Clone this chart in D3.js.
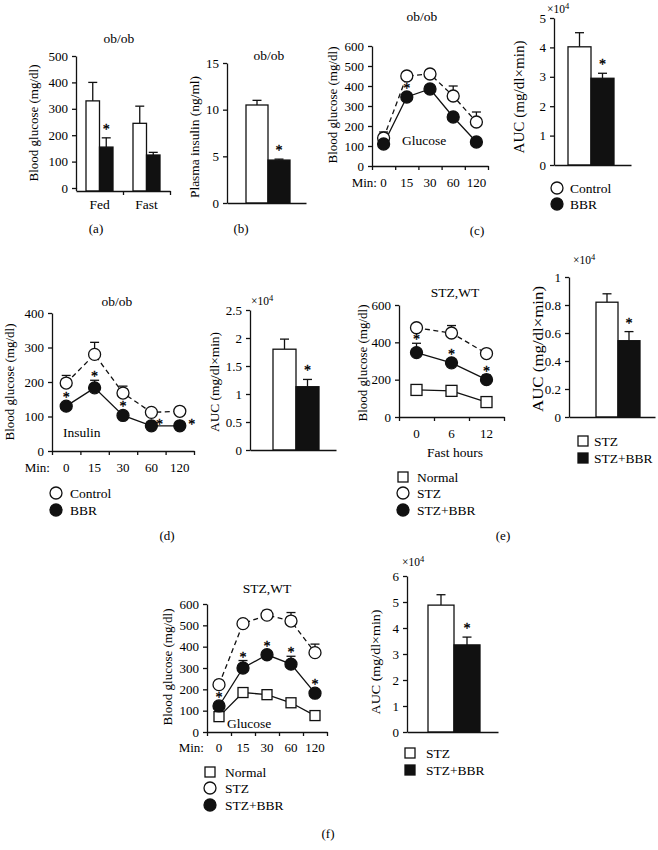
<!DOCTYPE html>
<html><head><meta charset="utf-8">
<script src="https://cdn.jsdelivr.net/npm/d3@7"></script>
<style>body{margin:0;background:#fff}svg{display:block}</style>
</head><body><svg id="c" width="658" height="850"></svg>
<script>
// ---------------- DATA ----------------
const groupLabels = ["Control", "BBR"];
const stzGroups = ["STZ", "STZ+BBR"];

// (a) ob/ob blood glucose
const aCategories = ["Fed", "Fast"];
const aControl = [330, 245];
const aControlErr = [70, 65];
const aBBR = [155, 125];
const aBBRErr = [35, 10];
const aBBRStar = [1, 0];
const aTicks = [0, 100, 200, 300, 400, 500];

// (b) plasma insulin
const bValues = [10.5, 4.6];
const bErr = [0.5, 0.1];
const bStar = [0, 1];
const bTicks = [0, 5, 10, 15];

// (c) glucose tolerance, ob/ob
const minLabels = ["0", "15", "30", "60", "120"];
const cControl = [140, 450, 460, 350, 220];
const cControlErr = [30, 15, 10, 50, 50];
const cBBR = [110, 345, 385, 245, 120];
const cBBRErr = [0, 0, 0, 0, 0];
const cBBRStar = [0, 1, 0, 0, 0];
const glucoseTicks = [0, 100, 200, 300, 400, 500, 600];
const cAUC = [4.02, 2.95];
const cAUCErr = [0.48, 0.17];
const cAUCStar = [0, 1];
const cAUCTicks = [0, 1, 2, 3, 4, 5];

// (d) insulin tolerance, ob/ob
const dControl = [197, 280, 168, 112, 115];
const dControlErr = [22, 35, 20, 0, 0];
const dBBR = [130, 183, 103, 73, 73];
const dBBRErr = [0, 22, 0, 0, 0];
const dBBRStar = [1, 1, 1, 2, 2]; // 1 = above, 2 = right side
const dTicks = [0, 100, 200, 300, 400];
const dAUC = [1.8, 1.13];
const dAUCErr = [0.18, 0.13];
const dAUCStar = [0, 1];
const dAUCTicks = [0, 0.5, 1, 1.5, 2, 2.5];

// (e) fasting, STZ
const fastHours = ["0", "6", "12"];
const eNormal = [145, 140, 80];
const eSTZ = [478, 450, 340];
const eSTZErr = [10, 40, 20];
const eBBR = [345, 290, 200];
const eBBRErr = [50, 0, 25];
const eBBRStar = [1, 1, 1];
const eTicks = [0, 200, 400, 600];
const eAUC = [0.82, 0.545];
const eAUCErr = [0.06, 0.065];
const eAUCStar = [0, 1];
const eAUCTicks = [0, 0.2, 0.4, 0.6, 0.8, 1];

// (f) glucose tolerance, STZ
const fNormal = [72, 185, 175, 137, 77];
const fSTZ = [222, 508, 548, 520, 372];
const fSTZErr = [20, 10, 22, 40, 40];
const fBBR = [122, 300, 362, 318, 182];
const fBBRErr = [10, 35, 10, 37, 12];
const fBBRStar = [1, 1, 1, 1, 1];
const fAUC = [4.88, 3.35];
const fAUCErr = [0.4, 0.3];
const fAUCStar = [0, 1];
const fAUCTicks = [0, 1, 2, 3, 4, 5, 6];

// ---------------- HELPERS ----------------
const FONT = '"Liberation Serif","Times New Roman",Times,serif';
const INK = "#111";
const TXT = "#000";
const SW = 1.3;
const svg = d3.select("#c");

function txt(x, y, s, o = {}) {
  const t = svg.append("text").attr("x", x).attr("y", y)
    .attr("dy", o.dy || "0.35em")
    .attr("font-family", FONT).attr("font-size", o.size || 13.5)
    .attr("fill", TXT).attr("text-anchor", o.anchor || "middle").text(s);
  if (o.rotate) t.attr("transform", `rotate(-90,${x},${y})`);
  if (o.len) t.attr("textLength", o.len).attr("lengthAdjust", "spacingAndGlyphs");
  return t;
}
function mult(x, y) {
  const t = svg.append("text").attr("x", x).attr("y", y).attr("dy", "0.35em")
    .attr("font-family", FONT).attr("font-size", 11.5).attr("fill", TXT);
  t.append("tspan").text("×10");
  t.append("tspan").attr("dy", -4).attr("font-size", 8.5).text("4");
}
function styleAxis(g, size) {
  g.selectAll("path,line").attr("stroke", INK).attr("stroke-width", SW);
  g.attr("font-family", FONT);
  g.selectAll("text").attr("font-family", FONT).attr("font-size", size).attr("fill", TXT);
}
function yAxis(x0, y, ticks, size = 13) {
  const g = svg.append("g").attr("transform", `translate(${x0},0)`)
    .call(d3.axisLeft(y).tickValues(ticks).tickFormat(d3.format("")).tickSize(4).tickSizeOuter(0).tickPadding(4));
  styleAxis(g, size);
}
function xAxis(x0, x1, n, yPos, tickIdx) {
  const xb = d3.scaleLinear([0, n], [x0, x1]);
  const g = svg.append("g").attr("transform", `translate(0,${yPos})`)
    .call(d3.axisBottom(xb).tickValues(tickIdx).tickSize(4).tickSizeOuter(0).tickFormat(""));
  styleAxis(g, 12);
}
function star(x, y) {
  txt(x, y, "*", { size: 14, dy: "0.5em" }).attr("stroke", TXT).attr("stroke-width", 0.35);
}
function errBar(cx, y1, y2, cap = 9) {
  svg.append("line").attr("x1", cx).attr("x2", cx).attr("y1", y1).attr("y2", y2).attr("stroke", INK).attr("stroke-width", SW);
  svg.append("line").attr("x1", cx - cap / 2).attr("x2", cx + cap / 2).attr("y1", y2).attr("y2", y2).attr("stroke", INK).attr("stroke-width", SW);
}
function bar(x, w, y, base, v, e, fill, st) {
  const cx = x + w / 2;
  if (e > 0) errBar(cx, y(v), y(v + e));
  svg.append("rect").attr("x", x).attr("y", y(v)).attr("width", w).attr("height", base - y(v))
    .attr("fill", fill).attr("stroke", INK).attr("stroke-width", SW);
  if (st) star(cx, y(v + e) - 11);
}
function marker(x, y, type, fill, size) {
  if (type === "circle") {
    svg.append("circle").attr("cx", x).attr("cy", y).attr("r", size)
      .attr("fill", fill).attr("stroke", INK).attr("stroke-width", SW);
  } else {
    svg.append("rect").attr("x", x - size).attr("y", y - size).attr("width", 2 * size).attr("height", 2 * size)
      .attr("fill", fill).attr("stroke", INK).attr("stroke-width", SW);
  }
}
function legend(mx, tx, ys, items, size = 13.5) {
  items.forEach((it, i) => {
    marker(mx, ys[i], it.type, it.fill, it.size);
    txt(tx, ys[i], it.label, { anchor: "start", size });
  });
}
// AUC bar chart (two bars)
function aucPanel(o) {
  const y = d3.scaleLinear([0, o.ticks[o.ticks.length - 1]], o.yRange);
  const x = d3.scaleBand(o.groups, o.barRange);
  yAxis(o.axisX, y, o.ticks);
  o.values.forEach((v, i) => bar(x(o.groups[i]), x.bandwidth(), y, y(0), v, o.errs[i], i ? INK : "#fff", o.stars[i]));
  xAxis(o.axisX, o.axisEnd, 1, y(0), []);
  mult(o.multX, o.multY);
  txt(o.labelX, o.labelY, "AUC (mg/dl×min)", { rotate: true, size: o.labelSize, len: o.labelLen });
}
// line panel
function linePanel(o) {
  const y = d3.scaleLinear([0, 600], o.yRange);
  if (o.yMax) y.domain([0, o.yMax]);
  const x = d3.scaleBand(o.cats, o.xRange);
  const cx = c => x(c) + x.bandwidth() / 2;
  yAxis(o.xRange[0], y, o.ticks);
  xAxis(o.xRange[0], o.xRange[1], o.cats.length, y(0), d3.range(o.cats.length + 1));
  o.cats.forEach(c => txt(cx(c), o.labelY, c, { size: 13 }));
  o.series.forEach(s => s.values.forEach((v, i) => {
    if (s.errs && s.errs[i] > 0) errBar(cx(o.cats[i]), y(v), y(v + s.errs[i]));
  }));
  o.series.forEach(s => {
    const line = d3.line().x((d, i) => cx(o.cats[i])).y(d => y(d));
    svg.append("path").attr("d", line(s.values)).attr("fill", "none").attr("stroke", INK)
      .attr("stroke-width", SW).attr("stroke-dasharray", s.dash ? "5,3.5" : null);
  });
  o.series.forEach(s => s.values.forEach((v, i) => marker(cx(o.cats[i]), y(v), s.type, s.fill, s.size)));
  o.series.forEach(s => {
    if (!s.stars) return;
    s.values.forEach((v, i) => {
      const px = cx(o.cats[i]), py = y(v);
      if (s.stars[i] === 1) {
        const e = s.errs ? s.errs[i] : 0;
        star(px, Math.min(py - 11, e > 0 ? y(v + e) - 6 : 1e9));
      } else if (s.stars[i] === 2) {
        star(px + (i === s.values.length - 1 ? 12 : 8), py - 4);
      }
    });
  });
}

// ---------------- (a) ----------------
{
  const y = d3.scaleLinear([0, 500], [188, 56]);
  const outer = d3.scaleBand(aCategories, [76, 170]);
  const inner = d3.scaleBand(groupLabels, [-13.5, 13.5]);
  yAxis(76, y, aTicks);
  svg.append("line").attr("x1", 76.5).attr("x2", 76.5).attr("y1", 188).attr("y2", 191).attr("stroke", INK).attr("stroke-width", SW);
  aCategories.forEach((c, i) => {
    const mid = outer(c) + outer.bandwidth() / 2;
    bar(mid + inner("Control"), inner.bandwidth(), y, 191, aControl[i], aControlErr[i], "#fff", 0);
    bar(mid + inner("BBR"), inner.bandwidth(), y, 191, aBBR[i], aBBRErr[i], INK, aBBRStar[i]);
    txt(mid, 204, c);
  });
  xAxis(76, 170, 2, 191, [1, 2]);
  txt(119, 38, "ob/ob");
  txt(33, 123, "Blood glucose (mg/dl)", { rotate: true, len: 117 });
  txt(96, 228, "(a)", { size: 13 });
}
// ---------------- (b) ----------------
{
  const y = d3.scaleLinear([0, 15], [203, 63]);
  const x = d3.scaleBand(groupLabels, [246, 290]);
  yAxis(227, y, bTicks);
  bValues.forEach((v, i) => bar(x(groupLabels[i]), x.bandwidth(), y, 203, v, bErr[i], i ? INK : "#fff", bStar[i]));
  xAxis(227, 306, 1, 203, []);
  txt(269, 55, "ob/ob");
  txt(194, 137, "Plasma insulin (ng/ml)", { rotate: true, len: 122 });
  txt(241, 228, "(b)", { size: 13 });
}
// ---------------- (c) ----------------
linePanel({
  cats: minLabels, xRange: [372, 488], yRange: [166, 46], ticks: glucoseTicks, labelY: 182,
  series: [
    { values: cControl, errs: cControlErr, type: "circle", fill: "#fff", size: 6, dash: true },
    { values: cBBR, errs: cBBRErr, type: "circle", fill: INK, size: 6, stars: cBBRStar }
  ]
});
txt(377, 182, "Min:", { anchor: "end", size: 13 });
txt(402, 140, "Glucose", { anchor: "start" });
txt(422, 16, "ob/ob");
txt(332, 105, "Blood glucose (mg/dl)", { rotate: true, len: 117 });
aucPanel({ groups: groupLabels, values: cAUC, errs: cAUCErr, stars: cAUCStar, ticks: cAUCTicks,
  yRange: [165, 18], barRange: [568, 614], axisX: 554, axisEnd: 631, multX: 547, multY: 9,
  labelX: 519, labelY: 97, labelSize: 14, labelLen: 113 });
legend(557, 570, [188, 204], [
  { type: "circle", fill: "#fff", size: 6, label: "Control" },
  { type: "circle", fill: INK, size: 6, label: "BBR" }]);
txt(477, 230, "(c)", { size: 13 });

// ---------------- (d) ----------------
linePanel({
  cats: minLabels, xRange: [52, 194], yRange: [451, 313], yMax: 400, ticks: dTicks, labelY: 467,
  series: [
    { values: dControl, errs: dControlErr, type: "circle", fill: "#fff", size: 6, dash: true },
    { values: dBBR, errs: dBBRErr, type: "circle", fill: INK, size: 6, stars: dBBRStar }
  ]
});
txt(50, 467, "Min:", { anchor: "end", size: 13 });
txt(63, 432, "Insulin", { anchor: "start" });
txt(117, 301, "ob/ob");
txt(9, 382, "Blood glucose (mg/dl)", { rotate: true, len: 117 });
aucPanel({ groups: groupLabels, values: dAUC, errs: dAUCErr, stars: dAUCStar, ticks: dAUCTicks,
  yRange: [450, 310], barRange: [273, 319], axisX: 250, axisEnd: 336, multX: 251, multY: 301,
  labelX: 214, labelY: 382, labelSize: 13, labelLen: 100 });
legend(56, 70, [493, 510], [
  { type: "circle", fill: "#fff", size: 6, label: "Control" },
  { type: "circle", fill: INK, size: 6, label: "BBR" }]);
txt(167, 535, "(d)", { size: 13 });

// ---------------- (e) ----------------
linePanel({
  cats: fastHours, xRange: [399, 504], yRange: [417, 305], ticks: eTicks, labelY: 433,
  series: [
    { values: eNormal, type: "square", fill: "#fff", size: 5.5 },
    { values: eSTZ, errs: eSTZErr, type: "circle", fill: "#fff", size: 6, dash: true },
    { values: eBBR, errs: eBBRErr, type: "circle", fill: INK, size: 6, stars: eBBRStar }
  ]
});
txt(455, 452, "Fast hours");
txt(455, 292, "STZ,WT");
txt(362, 363, "Blood glucose (mg/dl)", { rotate: true, len: 117 });
legend(403, 417, [477, 493, 510], [
  { type: "square", fill: "#fff", size: 5, label: "Normal" },
  { type: "circle", fill: "#fff", size: 6, label: "STZ" },
  { type: "circle", fill: INK, size: 6, label: "STZ+BBR" }]);
aucPanel({ groups: stzGroups, values: eAUC, errs: eAUCErr, stars: eAUCStar, ticks: eAUCTicks,
  yRange: [417, 277], barRange: [596, 640], axisX: 569, axisEnd: 655, multX: 573, multY: 260,
  labelX: 538, labelY: 349, labelSize: 14.5, labelLen: 126 });
legend(583, 594, [441, 458], [
  { type: "square", fill: "#fff", size: 5, label: "STZ" },
  { type: "square", fill: INK, size: 5, label: "STZ+BBR" }]);
txt(503, 535, "(e)", { size: 13 });

// ---------------- (f) ----------------
linePanel({
  cats: minLabels, xRange: [207, 327], yRange: [732, 604], ticks: glucoseTicks, labelY: 747,
  series: [
    { values: fNormal, type: "square", fill: "#fff", size: 5 },
    { values: fSTZ, errs: fSTZErr, type: "circle", fill: "#fff", size: 6, dash: true },
    { values: fBBR, errs: fBBRErr, type: "circle", fill: INK, size: 6, stars: fBBRStar }
  ]
});
txt(204, 747, "Min:", { anchor: "end", size: 13 });
txt(227, 723, "Glucose", { anchor: "start" });
txt(267, 588, "STZ,WT");
txt(167, 667, "Blood glucose (mg/dl)", { rotate: true, len: 117 });
legend(210, 225, [772, 788, 805], [
  { type: "square", fill: "#fff", size: 5, label: "Normal" },
  { type: "circle", fill: "#fff", size: 6, label: "STZ" },
  { type: "circle", fill: INK, size: 6, label: "STZ+BBR" }]);
aucPanel({ groups: stzGroups, values: fAUC, errs: fAUCErr, stars: fAUCStar, ticks: fAUCTicks,
  yRange: [732, 576], barRange: [428, 480], axisX: 407, axisEnd: 498, multX: 402, multY: 562,
  labelX: 375, labelY: 662, labelSize: 13.5, labelLen: 105 });
legend(410, 426, [753, 770], [
  { type: "square", fill: "#fff", size: 5, label: "STZ" },
  { type: "square", fill: INK, size: 5, label: "STZ+BBR" }]);
txt(328, 833, "(f)", { size: 13 });
</script></body></html>
